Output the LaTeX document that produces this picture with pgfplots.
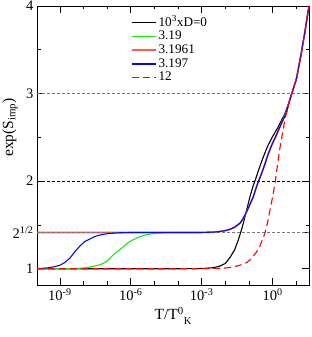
\documentclass[border=0pt]{standalone}
\usepackage{fontspec}
\setmainfont{Liberation Serif}
\usepackage{pgfplots}
\pgfplotsset{compat=1.18}
\definecolor{cgreen}{RGB}{20,235,20}
\definecolor{cblue}{RGB}{10,10,230}
\definecolor{csalmon}{RGB}{255,90,90}
\definecolor{cred}{RGB}{255,0,0}
\definecolor{cgrid}{RGB}{120,120,120}

\pgfplotstableread{
lx y
-9.97 1.0
-4.0 1.0
-3.0 1.002
-2.5 1.012
-2.23 1.03
-2.0 1.06
-1.8 1.13
-1.6 1.22
-1.45 1.33
-1.31 1.45
-1.2 1.56
-1.1 1.67
-0.95 1.83
-0.82 1.95
-0.75 2.0
-0.6 2.12
-0.47 2.22
-0.3 2.34
-0.19 2.41
0.0 2.51
0.24 2.62
0.52 2.77
0.73 2.93
0.87 3.05
1.01 3.17
1.2 3.44
1.37 3.71
1.54 4.0
}\blackdata

\pgfplotstableread{
lx y
-9.97 1.0
-8.5 1.0
-8.0 1.008
-7.73 1.02
-7.45 1.035
-7.17 1.06
-6.95 1.1
-6.74 1.16
-6.5 1.21
-6.32 1.25
-6.1 1.3
-5.9 1.33
-5.67 1.36
-5.47 1.38
-5.2 1.395
-4.91 1.405
-4.5 1.412
-4.0 1.414
-3.0 1.414
-2.5 1.418
-2.23 1.425
-2.0 1.435
-1.8 1.45
-1.6 1.475
-1.38 1.52
-1.25 1.57
-1.1 1.65
-0.95 1.74
-0.82 1.82
-0.7 1.92
-0.61 1.99
-0.45 2.1
-0.33 2.19
-0.2 2.3
-0.04 2.41
0.15 2.52
0.31 2.62
0.59 2.79
0.73 2.93
0.87 3.05
1.01 3.17
1.2 3.44
1.37 3.71
1.54 4.0
}\greendata

\pgfplotstableread{
lx y
-9.97 1.414
-6.0 1.414
-3.0 1.414
-2.5 1.418
-2.23 1.425
-2.0 1.435
-1.8 1.45
-1.6 1.475
-1.38 1.52
-1.25 1.57
-1.1 1.65
-0.95 1.74
-0.82 1.82
-0.7 1.92
-0.61 1.99
-0.45 2.1
-0.33 2.19
-0.2 2.3
-0.04 2.41
0.15 2.52
0.31 2.62
0.59 2.79
0.73 2.93
0.87 3.05
1.01 3.17
1.2 3.44
1.37 3.71
1.54 4.0
}\salmondata

\pgfplotstableread{
lx y
-9.97 1.0
-9.5 1.01
-9.2 1.025
-9.0 1.04
-8.8 1.07
-8.58 1.12
-8.35 1.2
-8.15 1.26
-7.95 1.31
-7.73 1.34
-7.5 1.37
-7.31 1.385
-7.0 1.40
-6.5 1.41
-6.0 1.414
-3.0 1.414
-2.5 1.418
-2.23 1.425
-2.0 1.435
-1.8 1.45
-1.6 1.475
-1.38 1.52
-1.25 1.57
-1.1 1.65
-0.95 1.74
-0.82 1.82
-0.7 1.92
-0.61 1.99
-0.45 2.1
-0.33 2.19
-0.2 2.3
-0.04 2.41
0.15 2.52
0.31 2.62
0.59 2.79
0.73 2.93
0.87 3.05
1.01 3.17
1.2 3.44
1.37 3.71
1.54 4.0
}\bluedata

\pgfplotstableread{
lx y
-9.97 1.0
-3.0 1.0
-2.5 1.002
-2.0 1.008
-1.66 1.02
-1.38 1.04
-1.1 1.07
-0.96 1.10
-0.8 1.15
-0.68 1.19
-0.55 1.25
-0.45 1.32
-0.33 1.40
-0.22 1.52
-0.11 1.67
0.0 1.82
0.1 1.97
0.2 2.17
0.31 2.38
0.42 2.55
0.52 2.70
0.62 2.82
0.73 2.93
0.87 3.05
1.01 3.17
1.2 3.44
1.37 3.71
1.54 4.0
}\reddata

\begin{document}
\begin{tikzpicture}
\begin{axis}[
  scale only axis, width=272pt, height=279pt,
  xmin=-9.97, xmax=1.54, ymin=0.814, ymax=4,
  axis line style={line width=0.8pt},
  xtick={-9,-6,-3,0},
  xticklabels={10\textsuperscript{-9},10\textsuperscript{-6},10\textsuperscript{-3},10\textsuperscript{0}},
  minor xtick={-9,-8,...,1},
  ytick={1,1.41421356,2,3,4},
  yticklabels={1,2\textsuperscript{1/2},2,3,4},
  minor ytick={1.5,2.5,3.5},
  tick align=inside,
  major tick length=7pt, minor tick length=3.5pt,
  tick style={line width=0.7pt, black},
  tick label style={font=\fontsize{14.5}{16}\selectfont},
  label style={font=\fontsize{15.5}{17}\selectfont},
  xlabel={T/T\textsuperscript{0}\raisebox{-5pt}{\fontsize{10.5}{11}\selectfont K}},
  ylabel={exp(S\textsubscript{imp})},
  ylabel style={at={(axis description cs:-0.07,0.565)}, anchor=south, inner sep=0pt},
  legend style={draw=none, fill=none, at={(axis description cs:0.347,0.964)}, anchor=north west,
    inner sep=0pt, outer sep=0pt, row sep=0pt,
    nodes={text height=8.5pt, text depth=2pt, inner sep=1.6pt},
    font=\fontsize{13.2}{14}\selectfont},
  legend cell align=left,
  legend image code/.code={\draw[#1] (-4pt,0pt) -- (20pt,0pt);},
  every axis plot/.append style={line width=1.1pt},
]
\addplot[black] table[x=lx,y=y] {\blackdata};
\addlegendentry{10\textsuperscript{3}xD=0}
\addplot[cgreen] table[x=lx,y=y] {\greendata};
\addlegendentry{3.19}
\addplot[csalmon, line width=1.6pt] table[x=lx,y=y] {\salmondata};
\addlegendentry{3.1961}
\addplot[cgrid, line width=0.6pt, dash pattern=on 3pt off 2pt, forget plot] coordinates {(-9.97,1.41421356) (1.54,1.41421356)};
\addplot[cgrid, line width=0.6pt, dash pattern=on 3pt off 2pt, forget plot] coordinates {(-9.97,3) (1.54,3)};
\addplot[black, line width=0.6pt, dash pattern=on 3pt off 2pt, forget plot] coordinates {(-9.97,2) (1.54,2)};
\addplot[cblue] table[x=lx,y=y] {\bluedata};
\addlegendentry{3.197}
\addplot[cred, dash pattern=on 7pt off 4pt] table[x=lx,y=y] {\reddata};
\addlegendentry{12}
\coordinate (bl) at (rel axis cs:0,0);
\coordinate (tr) at (rel axis cs:1,1);
\end{axis}
\pgfresetboundingbox
\path[use as bounding box] ([shift={(-37pt,-52pt)}]bl) rectangle ([shift={(3pt,6pt)}]tr);
\end{tikzpicture}
\end{document}
